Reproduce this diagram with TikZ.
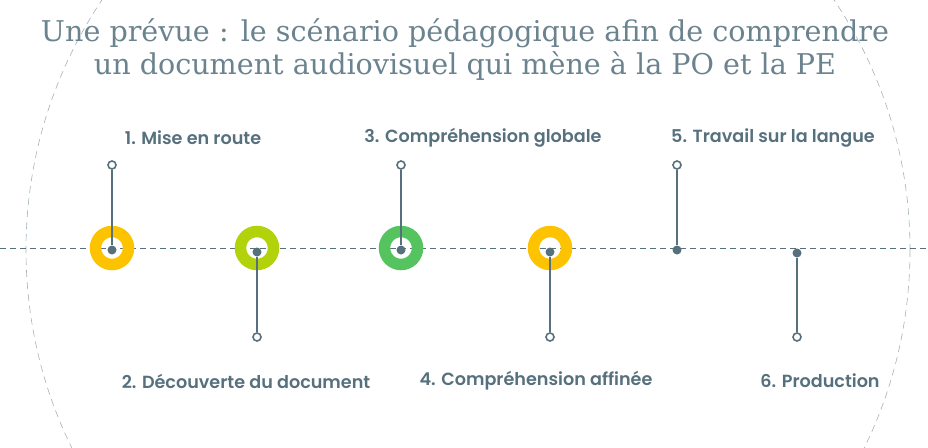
\documentclass[tikz,border=0pt]{standalone}
\usepackage{fontspec}
\usepackage{xcolor}
\usepackage{tikz}
\newfontfamily\labelfont{Poppins}[BoldFont={Poppins SemiBold}]
\newfontfamily\titlefont{DejaVu Serif}
\definecolor{slate}{HTML}{56707D}
\definecolor{titlegray}{HTML}{6A838F}
\definecolor{ringyellow}{HTML}{FDC300}
\definecolor{ringlime}{HTML}{B2D30B}
\definecolor{ringgreen}{HTML}{55C45E}
\definecolor{arcgray}{HTML}{A3B2BA}
\tikzset{
  ring/.style={circle, draw, line width=11.5pt, minimum size=33pt, inner sep=0pt},
  hub/.style={circle, fill=slate, minimum size=9pt, inner sep=0pt},
  pin/.style={circle, draw=slate, fill=white, line width=1.6pt, minimum size=8pt, inner sep=0pt},
  stem/.style={slate, line width=2.4pt},
  steplabel/.style={font=\labelfont\bfseries\fontsize{17.6}{20}\selectfont, text=slate}
}

\begin{document}
\begin{tikzpicture}[x=1pt, y=-1pt]
  \useasboundingbox (0,0) rectangle (928,447);
  \clip (0,0) rectangle (928,447);
  % big dashed arc and time line
  \draw[arcgray, line width=0.6pt, dash pattern=on 7pt off 5pt] (468,250) ellipse [x radius=442, y radius=446];
  \draw[slate, line width=0.9pt, dash pattern=on 6pt off 4pt] (0,248) -- (928,248);
  % title
  \node[font=\titlefont\fontsize{28.6}{33}\selectfont, text=titlegray, align=center] (title) at (465,50)
    {Une prévue : le scénario pédagogique afin de comprendre\\un document audiovisuel qui mène à la PO et la PE};
  % rings
  \node[ring, draw=ringyellow] (ring1) at (112,248) {};
  \node[ring, draw=ringlime] (ring2) at (257,248) {};
  \node[ring, draw=ringgreen] (ring3) at (401,248) {};
  \node[ring, draw=ringyellow] (ring4) at (550,248) {};
  % hubs and pins
  \node[hub] (hub1) at (112,250) {};
  \node[hub] (hub2) at (257,252) {};
  \node[hub] (hub3) at (401,250) {};
  \node[hub] (hub4) at (550,252) {};
  \node[hub] (hub5) at (677,250) {};
  \node[hub] (hub6) at (797,253) {};
  \node[pin] (pin1) at (112,165) {};
  \node[pin] (pin2) at (257,337) {};
  \node[pin] (pin3) at (401,165) {};
  \node[pin] (pin4) at (550,337) {};
  \node[pin] (pin5) at (677,165) {};
  \node[pin] (pin6) at (797,337) {};
  \draw[stem] (hub1) -- (pin1);
  \draw[stem] (hub2) -- (pin2);
  \draw[stem] (hub3) -- (pin3);
  \draw[stem] (hub4) -- (pin4);
  \draw[stem] (hub5) -- (pin5);
  \draw[stem] (hub6) -- (pin6);
  % labels
  \node[steplabel] (lab1) at (193,138) {1. Mise en route};
  \node[steplabel] (lab2) at (246,381) {2. Découverte du document};
  \node[steplabel] (lab3) at (483,138) {3. Compréhension globale};
  \node[steplabel] (lab4) at (536,381) {4. Compréhension affinée};
  \node[steplabel] (lab5) at (773,138) {5. Travail sur la langue};
  \node[steplabel] (lab6) at (820,381) {6. Production};
\end{tikzpicture}
\end{document}
